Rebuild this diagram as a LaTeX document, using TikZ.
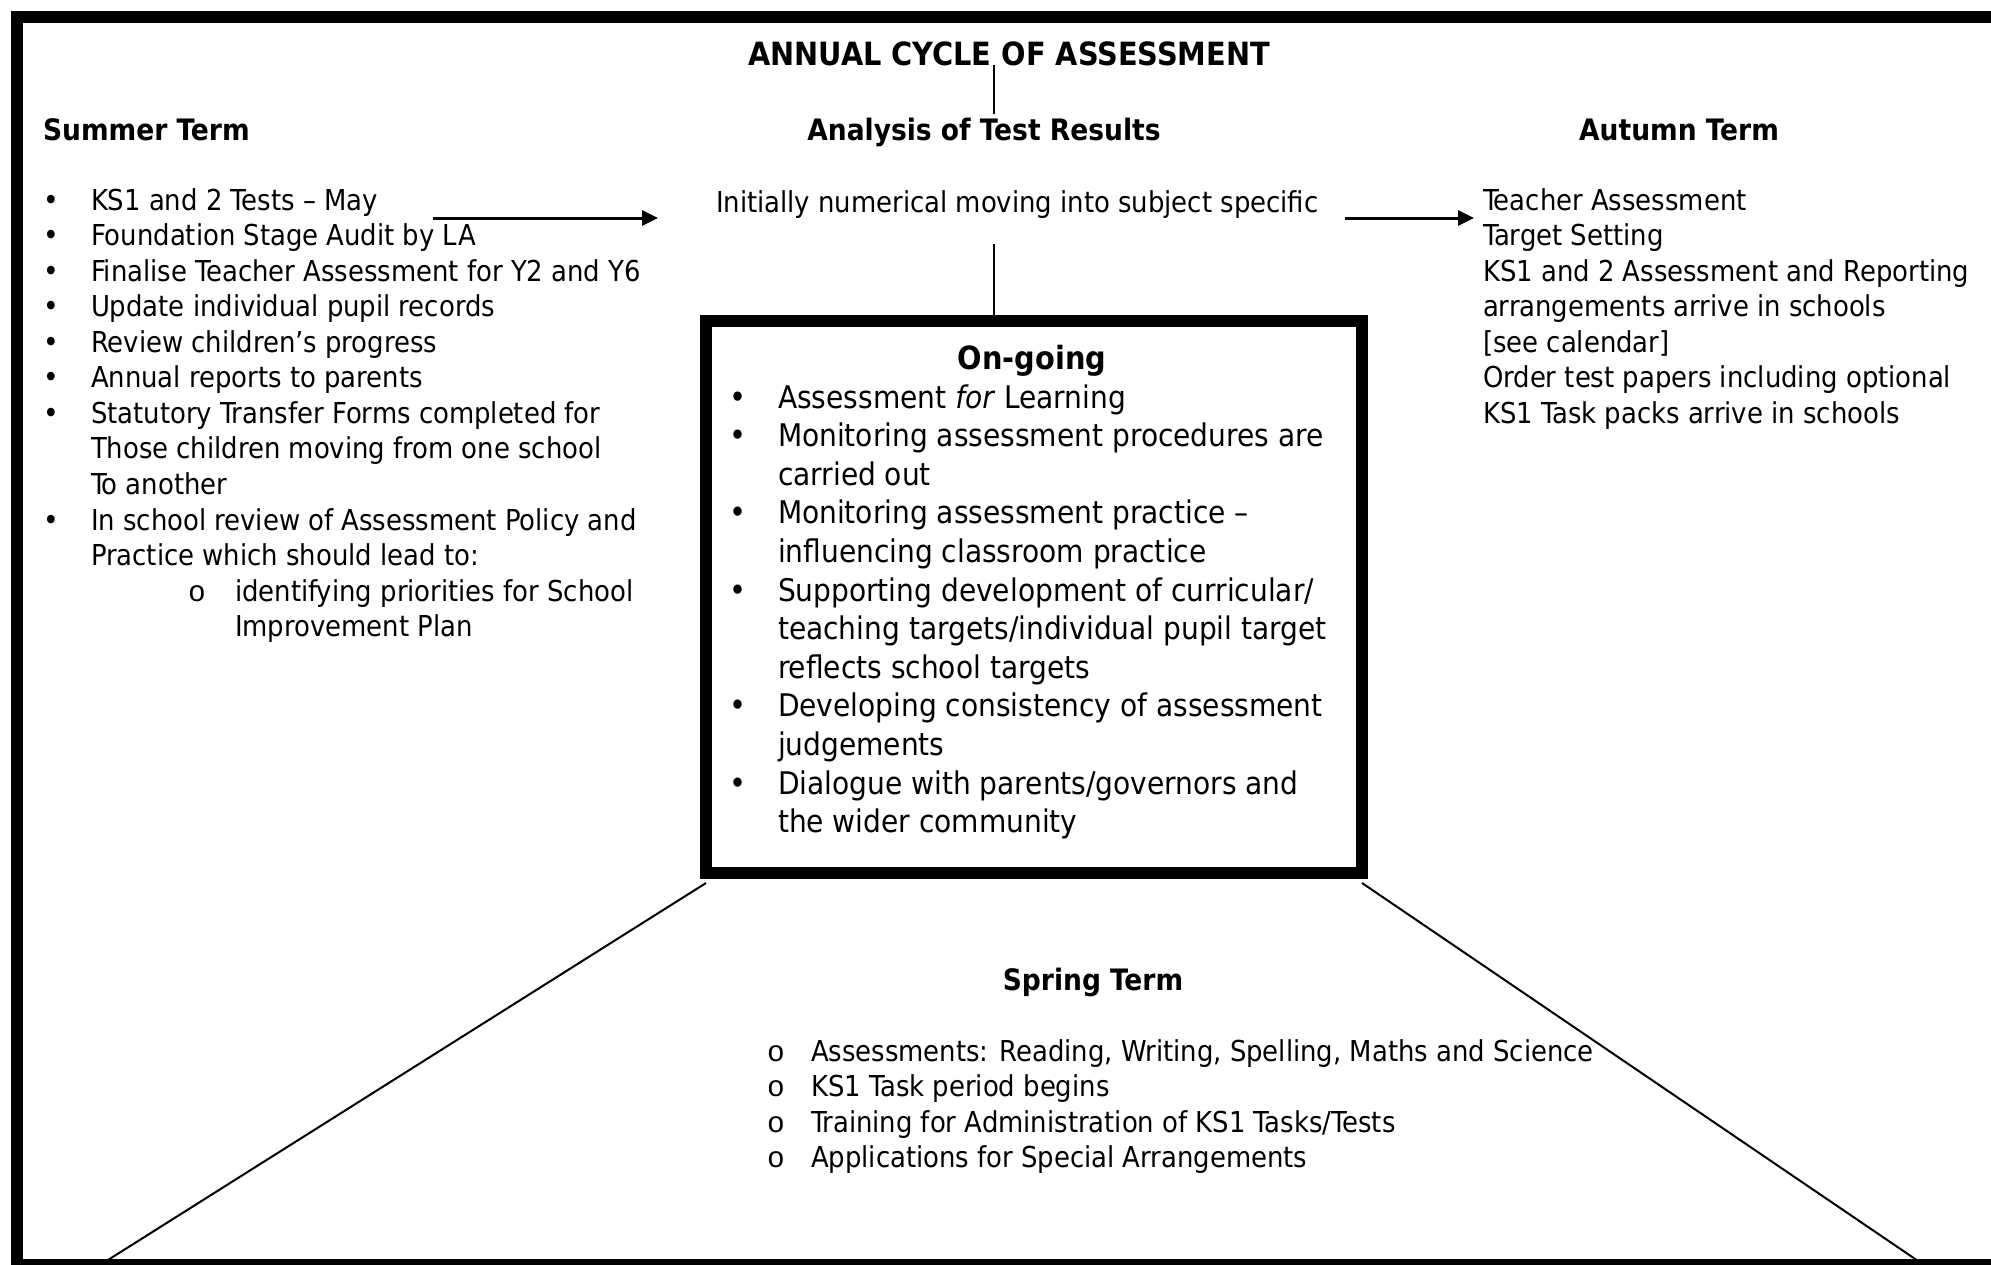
\documentclass[tikz,border=0pt]{standalone}
\usepackage{fontspec}
\setmainfont{DejaVu Sans Condensed}
\newfontfamily\ringfont{Liberation Mono}
\usetikzlibrary{arrows.meta}
\begin{document}
\begin{tikzpicture}[x=1pt,y=-1pt,
  every node/.style={inner sep=0pt, outer sep=0pt},
  bodytext/.style={anchor=base west, font=\fontsize{28.8}{35.56}\selectfont},
  boxtext/.style={anchor=base west, font=\fontsize{31.2}{38.6}\selectfont},
  headtext/.style={anchor=base, font=\fontsize{29.5}{35.56}\selectfont\bfseries},
  titletext/.style={anchor=base, font=\fontsize{32}{38}\selectfont\bfseries},
  boxhead/.style={anchor=base, font=\fontsize{32}{38.6}\selectfont\bfseries},
  bulletmark/.style={anchor=base, font=\fontsize{29.5}{35.56}\selectfont},
  boxbullet/.style={anchor=base, font=\fontsize{32}{38.6}\selectfont},
  ringmark/.style={anchor=base, font=\fontsize{29.5}{35.56}\selectfont\ringfont},
  outerframe/.style={line width=12pt},
  linkline/.style={line width=1.5pt},
  slantline/.style={line width=2pt},
  flowarrow/.style={line width=3pt, -{Triangle[length=16pt,width=15pt]}},
]
\useasboundingbox (0,0) rectangle (1991,1264);

% outer frame, running off the right edge
\draw[outerframe] (2030,1265) -- (17,1265) -- (17,17) -- (2030,17);

% title and column headings
\node[titletext] (title) at (1009,65) {ANNUAL CYCLE OF ASSESSMENT};
\node[headtext, anchor=base west] (summer) at (43,140) {Summer Term};
\node[headtext] (analysis) at (984,140) {Analysis of Test Results};
\node[headtext] (autumn) at (1679,140) {Autumn Term};

% summer term list
\node[bulletmark] (sb1) at (51,210.0) {•};
\node[bodytext] (s1) at (91,210.0) {KS1 and 2 Tests – May};
\node[bulletmark] (sb2) at (51,245.6) {•};
\node[bodytext] (s2) at (91,245.6) {Foundation Stage Audit by LA};
\node[bulletmark] (sb3) at (51,281.1) {•};
\node[bodytext] (s3) at (91,281.1) {Finalise Teacher Assessment for Y2 and Y6};
\node[bulletmark] (sb4) at (51,316.7) {•};
\node[bodytext] (s4) at (91,316.7) {Update individual pupil records};
\node[bulletmark] (sb5) at (51,352.2) {•};
\node[bodytext] (s5) at (91,352.2) {Review children’s progress};
\node[bulletmark] (sb6) at (51,387.8) {•};
\node[bodytext] (s6) at (91,387.8) {Annual reports to parents};
\node[bulletmark] (sb7) at (51,423.4) {•};
\node[bodytext] (s7) at (91,423.4) {Statutory Transfer Forms completed for};
\node[bodytext] (s8) at (91,458.9) {Those children moving from one school};
\node[bodytext] (s9) at (91,494.5) {To another};
\node[bulletmark] (sb10) at (51,530.0) {•};
\node[bodytext] (s10) at (91,530.0) {In school review of Assessment Policy and};
\node[bodytext] (s11) at (91,565.6) {Practice which should lead to:};
\node[ringmark] (sb12) at (197,601.2) {o};
\node[bodytext] (s12) at (235,601.2) {identifying priorities for School};
\node[bodytext] (s13) at (235,636.7) {Improvement Plan};

% analysis of test results
\node[bodytext] (init) at (716,212) {Initially numerical moving into subject specific};

% autumn term list
\node[bodytext] (a1) at (1483,210.0) {Teacher Assessment};
\node[bodytext] (a2) at (1483,245.6) {Target Setting};
\node[bodytext] (a3) at (1483,281.1) {KS1 and 2 Assessment and Reporting};
\node[bodytext] (a4) at (1483,316.7) {arrangements arrive in schools};
\node[bodytext] (a5) at (1483,352.2) {[see calendar]};
\node[bodytext] (a6) at (1483,387.8) {Order test papers including optional};
\node[bodytext] (a7) at (1483,423.4) {KS1 Task packs arrive in schools};

% on-going box
\node[draw, line width=12pt, minimum width=656pt, minimum height=552pt] (box) at (1034,597) {};
\node[boxhead] (ongoing) at (1032,369) {On-going};
\node[boxbullet] (ob1) at (738,408.0) {•};
\node[boxtext] (o1) at (778,408.0) {Assessment \textit{for} Learning};
\node[boxbullet] (ob2) at (738,446.6) {•};
\node[boxtext] (o2) at (778,446.6) {Monitoring assessment procedures are};
\node[boxtext] (o3) at (778,485.2) {carried out};
\node[boxbullet] (ob4) at (738,523.8) {•};
\node[boxtext] (o4) at (778,523.8) {Monitoring assessment practice –};
\node[boxtext] (o5) at (778,562.4) {influencing classroom practice};
\node[boxbullet] (ob6) at (738,601.0) {•};
\node[boxtext] (o6) at (778,601.0) {Supporting development of curricular/};
\node[boxtext] (o7) at (778,639.6) {teaching targets/individual pupil target};
\node[boxtext] (o8) at (778,678.2) {reflects school targets};
\node[boxbullet] (ob9) at (738,716.8) {•};
\node[boxtext] (o9) at (778,716.8) {Developing consistency of assessment};
\node[boxtext] (o10) at (778,755.4) {judgements};
\node[boxbullet] (ob11) at (738,794.0) {•};
\node[boxtext] (o11) at (778,794.0) {Dialogue with parents/governors and};
\node[boxtext] (o12) at (778,832.6) {the wider community};

% spring term
\node[headtext] (spring) at (1093,990) {Spring Term};
\node[ringmark] (pb1) at (776,1061.0) {o};
\node[bodytext] (p1) at (811,1061.0) {Assessments: Reading, Writing, Spelling, Maths and Science};
\node[ringmark] (pb2) at (776,1096.6) {o};
\node[bodytext] (p2) at (811,1096.6) {KS1 Task period begins};
\node[ringmark] (pb3) at (776,1132.1) {o};
\node[bodytext] (p3) at (811,1132.1) {Training for Administration of KS1 Tasks/Tests};
\node[ringmark] (pb4) at (776,1167.7) {o};
\node[bodytext] (p4) at (811,1167.7) {Applications for Special Arrangements};

% connectors
\coordinate (axis) at (994,0);
\coordinate (analysistop) at (994,114);
\coordinate (inittail) at (994,244);
\draw[linkline] (title.south -| axis) -- (analysistop);
\draw[linkline] (inittail) -- (box.north -| axis);

\coordinate (arrowonestart) at (433,218);
\coordinate (arrowoneend) at (658,218);
\coordinate (arrowtwostart) at (1345,218);
\coordinate (arrowtwoend) at (1474,218);
\draw[flowarrow] (arrowonestart) -- (arrowoneend);
\draw[flowarrow] (arrowtwostart) -- (arrowtwoend);

\coordinate (leftfoot) at (100,1265);
\coordinate (rightfoot) at (1924,1265);
\draw[slantline] ([yshift=-10pt]box.south west) -- (leftfoot);
\draw[slantline] ([yshift=-10pt]box.south east) -- (rightfoot);
\end{tikzpicture}
\end{document}
